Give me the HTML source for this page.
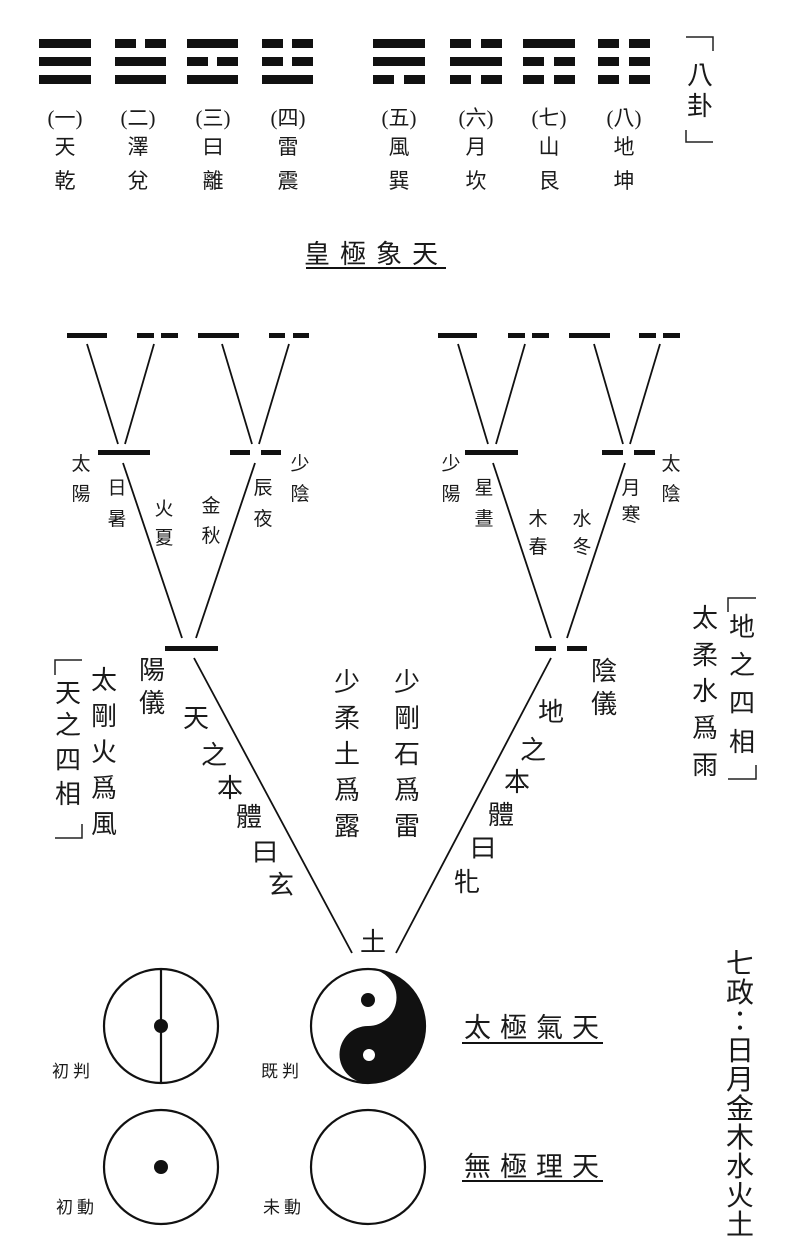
<!DOCTYPE html>
<html><head><meta charset="utf-8"><style>
html,body{margin:0;padding:0;background:#fff;}
svg{display:block;}
text{font-family:"Liberation Serif","Noto Sans CJK TC",serif;fill:#1a1a1a;}
</style></head><body>
<svg width="798" height="1252" viewBox="0 0 798 1252" xmlns="http://www.w3.org/2000/svg">
<g fill="#111">
<rect x="39" y="39" width="52" height="9"/><rect x="39" y="57" width="52" height="9"/><rect x="39" y="75" width="52" height="9"/>
<rect x="115" y="39" width="21" height="9"/><rect x="145" y="39" width="21" height="9"/><rect x="115" y="57" width="51" height="9"/><rect x="115" y="75" width="51" height="9"/>
<rect x="187" y="39" width="51" height="9"/><rect x="187" y="57" width="21" height="9"/><rect x="217" y="57" width="21" height="9"/><rect x="187" y="75" width="51" height="9"/>
<rect x="262" y="39" width="21" height="9"/><rect x="292" y="39" width="21" height="9"/><rect x="262" y="57" width="21" height="9"/><rect x="292" y="57" width="21" height="9"/><rect x="262" y="75" width="51" height="9"/>
<rect x="373" y="39" width="52" height="9"/><rect x="373" y="57" width="52" height="9"/><rect x="373" y="75" width="21" height="9"/><rect x="404" y="75" width="21" height="9"/>
<rect x="450" y="39" width="21" height="9"/><rect x="481" y="39" width="21" height="9"/><rect x="450" y="57" width="52" height="9"/><rect x="450" y="75" width="21" height="9"/><rect x="481" y="75" width="21" height="9"/>
<rect x="523" y="39" width="52" height="9"/><rect x="523" y="57" width="21" height="9"/><rect x="554" y="57" width="21" height="9"/><rect x="523" y="75" width="21" height="9"/><rect x="554" y="75" width="21" height="9"/>
<rect x="598" y="39" width="21" height="9"/><rect x="629" y="39" width="21" height="9"/><rect x="598" y="57" width="21" height="9"/><rect x="629" y="57" width="21" height="9"/><rect x="598" y="75" width="21" height="9"/><rect x="629" y="75" width="21" height="9"/>

<rect x="67" y="333" width="40" height="5"/>
<rect x="137" y="333" width="17" height="5"/><rect x="161" y="333" width="17" height="5"/>
<rect x="198" y="333" width="41" height="5"/>
<rect x="269" y="333" width="16" height="5"/><rect x="293" y="333" width="16" height="5"/>
<rect x="438" y="333" width="39" height="5"/>
<rect x="508" y="333" width="17" height="5"/><rect x="532" y="333" width="17" height="5"/>
<rect x="569" y="333" width="41" height="5"/>
<rect x="639" y="333" width="17" height="5"/><rect x="663" y="333" width="17" height="5"/>
<rect x="98" y="450" width="52" height="5"/>
<rect x="230" y="450" width="20" height="5"/><rect x="261" y="450" width="20" height="5"/>
<rect x="465" y="450" width="53" height="5"/>
<rect x="602" y="450" width="21" height="5"/><rect x="634" y="450" width="21" height="5"/>
<rect x="165" y="646" width="53" height="5"/>
<rect x="535" y="646" width="21" height="5"/><rect x="567" y="646" width="20" height="5"/>
</g>
<g stroke="#111" stroke-width="1.8" fill="none">
<line x1="87" y1="344" x2="118" y2="444"/><line x1="154" y1="344" x2="125" y2="444"/>
<line x1="222" y1="344" x2="252" y2="444"/><line x1="289" y1="344" x2="259" y2="444"/>
<line x1="458" y1="344" x2="488" y2="444"/><line x1="525" y1="344" x2="496" y2="444"/>
<line x1="594" y1="344" x2="623" y2="444"/><line x1="660" y1="344" x2="630" y2="444"/>
<line x1="123" y1="463" x2="182" y2="638"/><line x1="255" y1="463" x2="196" y2="638"/>
<line x1="493" y1="463" x2="551" y2="638"/><line x1="625" y1="463" x2="567" y2="638"/>
<line x1="194" y1="658" x2="352" y2="953"/><line x1="551" y1="658" x2="396" y2="953"/>
</g>
<!-- brackets -->
<g stroke="#222" stroke-width="1.5" fill="none">
<polyline points="686,37 713,37 713,51"/>
<polyline points="686,130 686,142 713,142"/>
<polyline points="55,675 55,660 82,660"/>
<polyline points="55,838 82,838 82,824"/>
<polyline points="728,612 728,598 756,598"/>
<polyline points="728,779 756,779 756,765"/>
</g>

<g font-size="21" text-anchor="middle">
<text x="65" y="125">(一)</text><text x="138" y="125">(二)</text><text x="213" y="125">(三)</text><text x="288" y="125">(四)</text>
<text x="399" y="125">(五)</text><text x="476" y="125">(六)</text><text x="549" y="125">(七)</text><text x="624" y="125">(八)</text>
<text x="65" y="154">天</text><text x="138" y="154">澤</text><text x="213" y="154">曰</text><text x="288" y="154">雷</text>
<text x="399" y="154">風</text><text x="476" y="154">月</text><text x="549" y="154">山</text><text x="624" y="154">地</text>
<text x="65" y="188">乾</text><text x="138" y="188">兌</text><text x="213" y="188">離</text><text x="288" y="188">震</text>
<text x="399" y="188">巽</text><text x="476" y="188">坎</text><text x="549" y="188">艮</text><text x="624" y="188">坤</text>
</g>
<g font-size="26" text-anchor="middle">
<text><tspan x="700" y="84">八</tspan><tspan x="700" y="115">卦</tspan></text>
</g>
<text x="376" y="263" font-size="26" text-anchor="middle" letter-spacing="10">皇極象天</text>
<rect x="306" y="267" width="140" height="2" fill="#111"/>

<g font-size="19" text-anchor="middle">
<text><tspan x="81" y="470">太</tspan><tspan x="81" y="500">陽</tspan></text>
<text><tspan x="117" y="494">日</tspan><tspan x="117" y="525">暑</tspan></text>
<text><tspan x="164" y="515">火</tspan><tspan x="164" y="544">夏</tspan></text>
<text><tspan x="211" y="512">金</tspan><tspan x="211" y="542">秋</tspan></text>
<text><tspan x="263" y="494">辰</tspan><tspan x="263" y="525">夜</tspan></text>
<text><tspan x="300" y="470">少</tspan><tspan x="300" y="500">陰</tspan></text>
<text><tspan x="451" y="470">少</tspan><tspan x="451" y="500">陽</tspan></text>
<text><tspan x="484" y="494">星</tspan><tspan x="484" y="525">晝</tspan></text>
<text><tspan x="538" y="525">木</tspan><tspan x="538" y="553">春</tspan></text>
<text><tspan x="582" y="525">水</tspan><tspan x="582" y="553">冬</tspan></text>
<text><tspan x="631" y="494">月</tspan><tspan x="631" y="521">寒</tspan></text>
<text><tspan x="671" y="470">太</tspan><tspan x="671" y="500">陰</tspan></text>
</g>

<g font-size="26" text-anchor="middle">
<text><tspan x="152" y="679">陽</tspan><tspan x="152" y="712">儀</tspan></text>
<text><tspan x="104" y="689">太</tspan><tspan x="104" y="725">剛</tspan><tspan x="104" y="761">火</tspan><tspan x="104" y="797">爲</tspan><tspan x="104" y="833">風</tspan></text>
<text><tspan x="68" y="702">天</tspan><tspan x="68" y="734">之</tspan><tspan x="68" y="769">四</tspan><tspan x="68" y="803">相</tspan></text>
<text><tspan x="347" y="691">少</tspan><tspan x="347" y="727">柔</tspan><tspan x="347" y="763">土</tspan><tspan x="347" y="799">爲</tspan><tspan x="347" y="835">露</tspan></text>
<text><tspan x="407" y="691">少</tspan><tspan x="407" y="727">剛</tspan><tspan x="407" y="763">石</tspan><tspan x="407" y="799">爲</tspan><tspan x="407" y="835">雷</tspan></text>
<text><tspan x="604" y="680">陰</tspan><tspan x="604" y="713">儀</tspan></text>
<text><tspan x="705" y="627">太</tspan><tspan x="705" y="664">柔</tspan><tspan x="705" y="700">水</tspan><tspan x="705" y="737">爲</tspan><tspan x="705" y="774">雨</tspan></text>
<text><tspan x="742" y="636">地</tspan><tspan x="742" y="674">之</tspan><tspan x="742" y="712">四</tspan><tspan x="742" y="751">相</tspan></text>
<text x="196" y="727">天</text><text x="214" y="764">之</text><text x="230" y="797">本</text><text x="249" y="826">體</text><text x="265" y="861">曰</text><text x="281" y="894">玄</text>
<text x="551" y="721">地</text><text x="533" y="759">之</text><text x="517" y="791">本</text><text x="501" y="824">體</text><text x="483" y="857">曰</text><text x="467" y="891">牝</text>
<text x="373" y="951">土</text>
</g>
<g font-size="28" text-anchor="middle">
<text><tspan x="740" y="973">七</tspan><tspan x="740" y="1002">政</tspan><tspan x="740" y="1031">：</tspan><tspan x="740" y="1060">日</tspan><tspan x="740" y="1089">月</tspan><tspan x="740" y="1118">金</tspan><tspan x="740" y="1147">木</tspan><tspan x="740" y="1176">水</tspan><tspan x="740" y="1205">火</tspan><tspan x="740" y="1234">土</tspan></text>
</g>

<g stroke="#111" stroke-width="2.2" fill="none">
<circle cx="161" cy="1026" r="57"/>
<line x1="161" y1="969" x2="161" y2="1083"/>
<circle cx="161" cy="1167" r="57"/>
<circle cx="368" cy="1167" r="57"/>
</g>
<circle cx="161" cy="1026" r="7" fill="#111"/>
<circle cx="161" cy="1167" r="7" fill="#111"/>
<path d="M368 969 A57 57 0 0 1 368 1083 A28.5 28.5 0 0 1 368 1026 A28.5 28.5 0 0 0 368 969 Z" fill="#111"/>
<circle cx="368" cy="1026" r="57" fill="none" stroke="#111" stroke-width="2.2"/>
<circle cx="368" cy="1000" r="7" fill="#111"/>
<circle cx="369" cy="1055" r="6" fill="#fff"/>

<g font-size="17" text-anchor="middle" letter-spacing="4">
<text x="73" y="1077">初判</text><text x="282" y="1077">既判</text>
<text x="77" y="1213">初動</text><text x="284" y="1213">未動</text>
</g>
<g font-size="27" text-anchor="middle" letter-spacing="9">
<text x="536" y="1037">太極氣天</text>
<text x="536" y="1176">無極理天</text>
</g>
<rect x="462" y="1042" width="141" height="2" fill="#111"/>
<rect x="462" y="1180" width="141" height="2" fill="#111"/>
</svg>
</body></html>
